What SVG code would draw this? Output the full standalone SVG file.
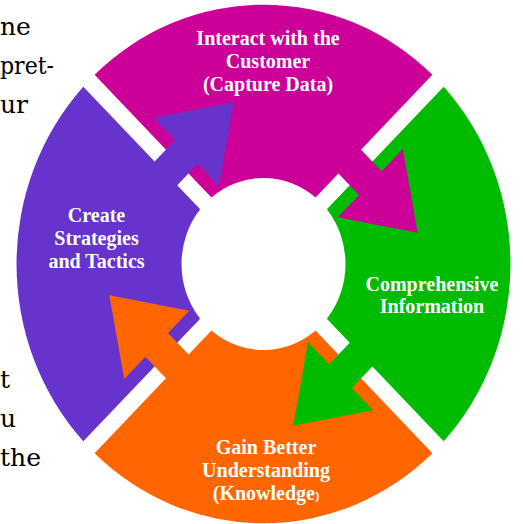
<svg xmlns="http://www.w3.org/2000/svg" xmlns:xlink="http://www.w3.org/1999/xlink" width="523" height="524" viewBox="0 0 523 524">
  <style>
    .label { font-family: "Liberation Serif", "Times New Roman", serif; font-weight: bold; font-size: 20px; fill: #ffffff; text-anchor: middle; }
    .body { font-family: "DejaVu Serif", "Liberation Serif", serif; font-size: 25px; fill: #000000; }
    .magenta { fill: #CC0099; }
    .green { fill: #00BB00; }
    .orange { fill: #FF6600; }
    .purple { fill: #6633CC; }
  </style>
  <defs>
    <!-- one quarter of the ring (top), between two diagonal gaps -->
    <path id="sector" d="M -52.05,-63.36 L -168.9,-180.2 A 247 247 0 0 1 168.9,-180.2 L 52.05,-63.36 A 82 82 0 0 0 -52.05,-63.36 Z"/>
    <!-- block arrow crossing the upper-right gap, pointing clockwise -->
    <path id="arrow" d="M 94.75,-111.72 L 118.09,-88.39 L 139.30,-109.60 L 154.15,-29.70 L 74.25,-44.55 L 95.46,-65.76 L 72.12,-89.10 Z"/>
  </defs>

  <!-- running text of the page beside the figure -->
  <g id="page-text" class="body">
    <text x="0" y="35">ne</text>
    <text x="0" y="74" textLength="54" lengthAdjust="spacingAndGlyphs">pret-</text>
    <text x="0" y="113">ur</text>
    <text x="0" y="388">t</text>
    <text x="0" y="427">u</text>
    <text x="0" y="466">the</text>
  </g>

  <g id="node-interact" class="magenta">
    <use xlink:href="#sector" transform="translate(263.5,264) scale(1,1.05)"/>
  </g>
  <g id="node-information" class="green">
    <use xlink:href="#sector" transform="translate(263.5,264) scale(1,1.05) rotate(90)"/>
  </g>
  <g id="node-understanding" class="orange">
    <use xlink:href="#sector" transform="translate(263.5,264) scale(1,1.05) rotate(180)"/>
  </g>
  <g id="node-strategies" class="purple">
    <use xlink:href="#sector" transform="translate(263.5,264) scale(1,1.05) rotate(270)"/>
  </g>

  <g id="connectors">
    <use class="magenta" xlink:href="#arrow" transform="translate(263.5,264) scale(1,1.05)"/>
    <use class="green" xlink:href="#arrow" transform="translate(263.5,264) scale(1,1.05) rotate(90)"/>
    <use class="orange" xlink:href="#arrow" transform="translate(263.5,264) scale(1,1.05) rotate(180)"/>
    <use class="purple" xlink:href="#arrow" transform="translate(263.5,264) scale(1,1.05) rotate(270)"/>
  </g>

  <g id="labels" class="label">
    <text x="268" y="45">Interact with the</text>
    <text x="268" y="68">Customer</text>
    <text x="268" y="91">(Capture Data)</text>
    <text x="432" y="291">Comprehensive</text>
    <text x="432" y="313">Information</text>
    <text x="266" y="454">Gain Better</text>
    <text x="266" y="477">Understanding</text>
    <text x="266" y="500">(Knowledge<tspan font-size="13px">)</tspan></text>
    <text x="96.5" y="222">Create</text>
    <text x="96.5" y="245">Strategies</text>
    <text x="96.5" y="268">and Tactics</text>
  </g>
</svg>
